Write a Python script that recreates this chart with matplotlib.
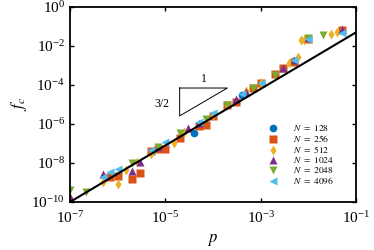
import numpy as np
import matplotlib
matplotlib.use("Agg")
import matplotlib.pyplot as plt
from matplotlib.ticker import FixedLocator, LogFormatterMathtext, NullLocator

plt.rcParams['font.family'] = ['Liberation Serif', 'DejaVu Serif']
plt.rcParams['mathtext.fontset'] = 'stix'

# Data: (p, log10 f_c) per system size
p_128 = [4e-5, 4e-4, 1e-3, 5e-3]
lf_128 = [-6.45, -4.49, -3.9, -2.78]

p_256 = [7e-7, 1e-6, 2e-6, 3e-6, 5e-6, 7e-6, 1e-5, 2e-5, 5e-5, 7e-5,
         1e-4, 2e-4, 3e-4, 7e-4, 1e-3, 2e-3, 3e-3, 5e-3, 1e-2, 5e-2]
lf_256 = [-8.70, -8.67, -8.82, -8.52, -7.37, -7.30, -7.29, -6.71, -6.08, -6.06,
          -5.6, -5.03, -4.86, -4.13, -3.92, -3.45, -3.15, -2.8, -1.62, -1.16]

p_512 = [1e-7, 5e-7, 1e-6, 1.5e-6, 2.5e-6, 5e-6, 1.5e-5, 2.5e-5, 1e-4, 2e-4,
         5e-4, 1e-3, 4e-3, 6e-3, 7e-3, 8e-3, 1e-2, 3e-2, 4e-2, 5e-2]
lf_512 = [-9.8, -8.96, -9.08, -8.35, -7.95, -7.54, -6.95, -6.4, -5.55, -5.0,
          -4.3, -3.9, -2.87, -2.56, -1.71, -1.68, -1.62, -1.37, -1.28, -1.2]

p_1024 = [1e-7, 5e-7, 2e-6, 3e-6, 7e-6, 3e-5, 5e-5, 3e-4, 5e-4, 3e-3,
          5e-3, 1e-2, 5e-2]
lf_1024 = [-9.73, -8.58, -8.40, -7.95, -7.17, -6.23, -5.95, -4.73, -4.35, -3.12,
           -2.7, -1.58, -1.11]

p_2048 = [1e-7, 2.2e-7, 2e-6, 7e-6, 2e-5, 7e-5, 2e-4, 7e-4, 2e-3, 1e-2, 2e-2]
lf_2048 = [-9.39, -9.47, -7.99, -7.2, -6.48, -5.72, -5.05, -4.15, -3.5, -1.6, -1.45]

p_4096 = [5e-7, 7e-7, 1e-6, 5e-6, 1e-5, 5e-5, 1e-4, 4e-4, 1e-3, 5e-3,
          1e-2, 5e-2]
lf_4096 = [-8.70, -8.45, -8.33, -7.34, -6.91, -5.89, -5.46, -4.45, -3.89, -2.73,
           -1.65, -1.33]

series = [
    (p_128, lf_128, 'o', '#0072BD', 128),
    (p_256, lf_256, 's', '#D95319', 256),
    (p_512, lf_512, 'd', '#EDB120', 512),
    (p_1024, lf_1024, '^', '#7E2F8E', 1024),
    (p_2048, lf_2048, 'v', '#77AC30', 2048),
    (p_4096, lf_4096, '<', '#4DBEEE', 4096),
]

# reference power law
fit_p = np.array([1e-7, 1e-1])
fit_slope = 1.45
fit_f = 1e-10 * (fit_p / 1e-7) ** fit_slope

fig = plt.figure(figsize=(3.74, 2.5), dpi=100)
ax = fig.add_axes([0.187, 0.192, 0.765, 0.78])

handles = []
for p, lf, mk, col, n in series:
    h, = ax.plot(p, 10.0 ** np.array(lf), ls='none', marker=mk, color=col,
                 ms=5.5, mec='none', label=r'$N\ =\ %d$' % n)
    handles.append(h)

ax.plot(fit_p, fit_f, color='black', lw=1.5, zorder=5)

# slope triangle
tx = [2e-5, 2e-4, 2e-5, 2e-5]
ty = [7e-5, 7e-5, 2.6e-6, 7e-5]
ax.plot(tx, ty, color='black', lw=0.7)
ax.text(6.3e-5, 1.0e-4, '1', fontsize=8.5, ha='center', va='bottom')
ax.text(1.25e-5, 1.1e-5, '3/2', fontsize=8.5, ha='right', va='center')

ax.set_xscale('log')
ax.set_yscale('log')
ax.set_xlim(1e-7, 1e-1)
ax.set_ylim(1e-10, 1e0)
ax.xaxis.set_major_locator(FixedLocator([1e-7, 1e-5, 1e-3, 1e-1]))
ax.yaxis.set_major_locator(FixedLocator([1e-10, 1e-8, 1e-6, 1e-4, 1e-2, 1e0]))
ax.xaxis.set_minor_locator(NullLocator())
ax.yaxis.set_minor_locator(NullLocator())
ax.xaxis.set_major_formatter(LogFormatterMathtext())
ax.yaxis.set_major_formatter(LogFormatterMathtext())
ax.tick_params(which='major', direction='in', top=True, right=True,
               length=3, width=1, labelsize=11)
ax.tick_params(axis='x', pad=6)
for s in ax.spines.values():
    s.set_linewidth(1.3)

ax.set_xlabel(r'$p$', fontsize=12, labelpad=4)
ax.set_ylabel(r'$f_c$', fontsize=12, labelpad=2)

ax.legend(handles=handles, loc='upper left', bbox_to_anchor=(0.67, 0.44),
          frameon=False, fontsize=6.8, handlelength=1.0, handletextpad=1.6,
          labelspacing=0.0, borderpad=0.2)

fig.savefig('out.png', dpi=100)
